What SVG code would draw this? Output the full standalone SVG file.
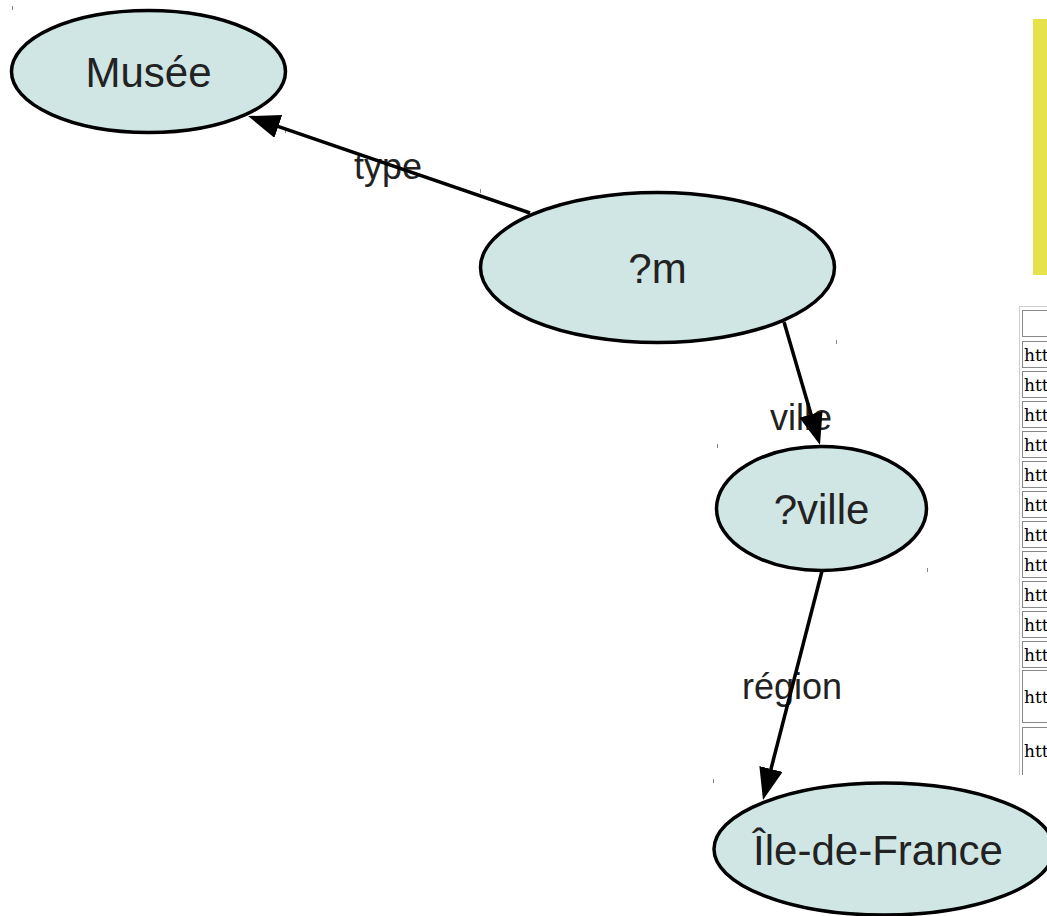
<svg xmlns="http://www.w3.org/2000/svg" width="1047" height="916" viewBox="0 0 1047 916">
<style>
.node ellipse{fill:#cfe6e4;stroke:#000;stroke-width:3.5}
.node text{font-family:"Liberation Sans",Arial,sans-serif;font-size:42px;fill:#222;text-anchor:middle}
.elabel{font-family:"Liberation Sans",Arial,sans-serif;font-size:36px;fill:#222;text-anchor:middle}
.edge{stroke:#000;stroke-width:3.5;fill:none;marker-end:url(#arr)}
.tick{fill:#888}
.cell{fill:#fff;stroke:#888;stroke-width:1}
.ctext{font-family:"DejaVu Serif","Liberation Serif",serif;font-size:17px;fill:#000}
</style>
<defs>
<marker id="arr" markerUnits="userSpaceOnUse" markerWidth="34" markerHeight="26" refX="22" refY="12" orient="auto">
<path d="M0,0 L32,12 L0,24 Z" fill="#000"/>
</marker>
<clipPath id="tclip"><rect x="1015" y="300" width="40" height="475"/></clipPath>
</defs>
<rect width="1047" height="916" fill="#fff"/>
<g id="ticks">
<rect class="tick" x="12" y="6" width="1" height="4"/>
<rect class="tick" x="285" y="129" width="1" height="4"/>
<rect class="tick" x="480" y="189" width="1" height="4"/>
<rect class="tick" x="836" y="340" width="1" height="4"/>
<rect class="tick" x="717" y="444" width="1" height="4"/>
<rect class="tick" x="927" y="568" width="1" height="4"/>
<rect class="tick" x="713" y="779" width="1" height="4"/>
</g>
<rect id="yellow-bar" x="1033" y="19" width="14" height="256" fill="#e6e24c"/>
<g id="table" clip-path="url(#tclip)">
<rect x="1019.5" y="306.5" width="40" height="480" fill="#fff" stroke="#ccc"/>
<rect class="cell" x="1022.5" y="310.5" width="40" height="26"/>
<rect class="cell" x="1022.5" y="341.5" width="40" height="26"/><text class="ctext" x="1024" y="361">htt</text>
<rect class="cell" x="1022.5" y="371.5" width="40" height="26"/><text class="ctext" x="1024" y="391">htt</text>
<rect class="cell" x="1022.5" y="401.5" width="40" height="26"/><text class="ctext" x="1024" y="421">htt</text>
<rect class="cell" x="1022.5" y="431.5" width="40" height="26"/><text class="ctext" x="1024" y="451">htt</text>
<rect class="cell" x="1022.5" y="461.5" width="40" height="26"/><text class="ctext" x="1024" y="481">htt</text>
<rect class="cell" x="1022.5" y="491.5" width="40" height="26"/><text class="ctext" x="1024" y="511">htt</text>
<rect class="cell" x="1022.5" y="521.5" width="40" height="26"/><text class="ctext" x="1024" y="541">htt</text>
<rect class="cell" x="1022.5" y="551.5" width="40" height="26"/><text class="ctext" x="1024" y="571">htt</text>
<rect class="cell" x="1022.5" y="581.5" width="40" height="26"/><text class="ctext" x="1024" y="601">htt</text>
<rect class="cell" x="1022.5" y="611.5" width="40" height="26"/><text class="ctext" x="1024" y="631">htt</text>
<rect class="cell" x="1022.5" y="641.5" width="40" height="26"/><text class="ctext" x="1024" y="661">htt</text>
<rect class="cell" x="1022.5" y="670.5" width="40" height="52"/><text class="ctext" x="1024" y="703">htt</text>
<rect class="cell" x="1022.5" y="727.5" width="40" height="60"/><text class="ctext" x="1024" y="757">htt</text>
</g>
<g id="node-musee" class="node">
<ellipse cx="148.5" cy="71.5" rx="137" ry="61"/>
<text x="148.5" y="87">Musée</text>
</g>
<g id="node-m" class="node">
<ellipse cx="657.5" cy="267.5" rx="177" ry="75"/>
<text x="657.5" y="283">?m</text>
</g>
<g id="node-ville" class="node">
<ellipse cx="821.5" cy="508.5" rx="105" ry="62"/>
<text x="821.5" y="524">?ville</text>
</g>
<g id="node-idf" class="node">
<ellipse cx="884" cy="849" rx="170" ry="66"/>
<text x="878" y="865">Île-de-France</text>
</g>
<g id="connectors">
<text class="elabel" x="388" y="179">type</text>
<text class="elabel" x="801" y="430">ville</text>
<text class="elabel" x="792" y="699">région</text>
<line class="edge" x1="530" y1="213" x2="257.5" y2="119.3"/>
<line class="edge" x1="784" y1="322" x2="817.2" y2="435.4"/>
<line class="edge" x1="822" y1="571" x2="765.5" y2="790.3"/>
</g>
</svg>
